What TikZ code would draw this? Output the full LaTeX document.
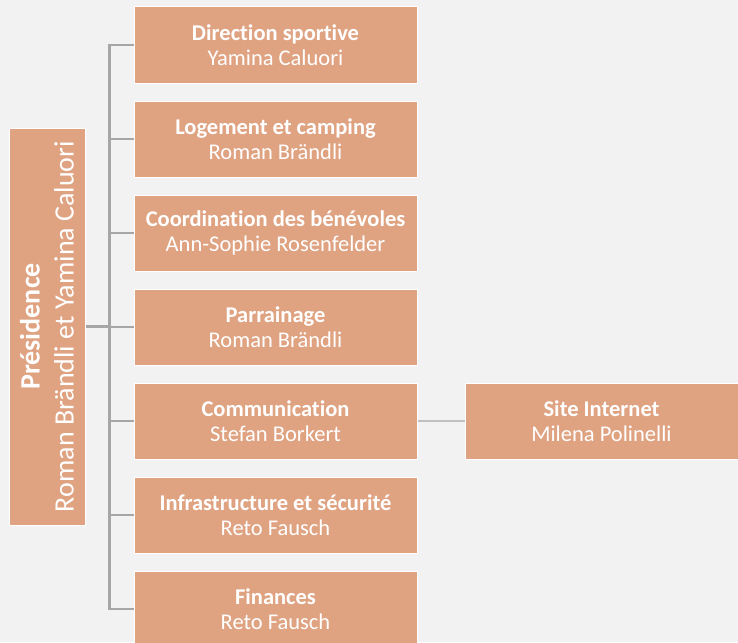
\documentclass[tikz,border=0pt]{standalone}
\usepackage{fontspec}
\setmainfont{Carlito}[Ligatures=NoCommon]
\definecolor{boxfill}{HTML}{DFA382}
\definecolor{bgcol}{HTML}{F2F2F2}
\definecolor{linkgray}{HTML}{A6A6A6}
\definecolor{linklight}{HTML}{C0C0C0}
\tikzset{
  rolebox/.style={fill=boxfill, draw=white, line width=1pt, text=white,
    minimum width=283pt, minimum height=76pt, inner sep=0pt, align=center,
    font=\fontsize{22.5}{25}\selectfont},
  link/.style={draw=linkgray, line width=2.5pt}
}
\begin{document}
\begin{tikzpicture}[x=1pt,y=-1pt]
    \fill[bgcol] (0,0) rectangle (738,642);
    \useasboundingbox (0,0) rectangle (738,642);
    \begin{scope}
    \clip (0,0) rectangle (738,642);
    % presidence, rotated
    \node[rolebox, minimum width=397pt, rotate=90, font=\fontsize{28}{34}\selectfont] (pres) at (47,326.5) {\textbf{Présidence}\\Roman Brändli et Yamina Caluori};
    % the seven departments
    \node[rolebox] (sport) at (275.5,45) {\textbf{Direction sportive}\\Yamina Caluori};
    \node[rolebox] (logement) at (275.5,139) {\textbf{Logement et camping}\\Roman Brändli};
    \node[rolebox] (benevoles) at (275.5,233) {\textbf{Coordination des bénévoles}\\Ann-Sophie Rosenfelder};
    \node[rolebox] (parrain) at (275.5,327) {\textbf{Parrainage}\\Roman Brändli};
    \node[rolebox] (comm) at (275.5,421) {\textbf{Communication}\\Stefan Borkert};
    \node[rolebox] (infra) at (275.5,515) {\textbf{Infrastructure et sécurité}\\Reto Fausch};
    \node[rolebox] (finances) at (275.5,609) {\textbf{Finances}\\Reto Fausch};
    \node[rolebox, minimum width=273pt] (site) at (601.5,421) {\textbf{Site Internet}\\Milena Polinelli};
    % trunk and branches
    \coordinate (trunk) at (109.5,0);
    \draw[link] (sport.west) -- (sport.west -| trunk) -- (finances.west -| trunk) -- (finances.west);
    \draw[link] (logement.west) -- (logement.west -| trunk);
    \draw[link] (benevoles.west) -- (benevoles.west -| trunk);
    \draw[link] (parrain.west) -- (parrain.west -| trunk);
    \draw[link] (comm.west) -- (comm.west -| trunk);
    \draw[link] (infra.west) -- (infra.west -| trunk);
    \draw[link] (pres.south) -- (pres.south -| trunk);
    \draw[link, draw=linklight] (comm.east) -- (site.west);
    \end{scope}
\end{tikzpicture}
\end{document}
